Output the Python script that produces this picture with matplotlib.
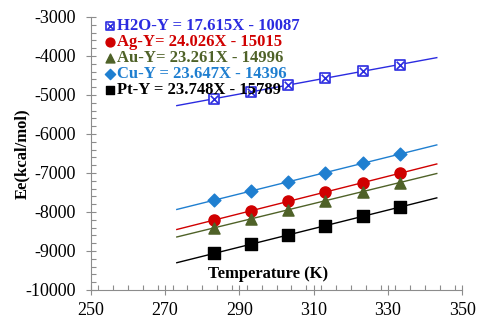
import numpy as np
import matplotlib
matplotlib.use("Agg")
import matplotlib.pyplot as plt
from matplotlib.ticker import MultipleLocator

temps = [283.15, 293.15, 303.15, 313.15, 323.15, 333.15]
h2o = [-5100, -4920, -4745, -4570, -4395, -4220]
ag = [-8210, -7970, -7730, -7490, -7250, -7010]
au = [-8410, -8177, -7945, -7712, -7480, -7247]
cu = [-7700, -7464, -7227, -6991, -6754, -6518]
pt = [-9065, -8827, -8590, -8352, -8115, -7877]
labels = ["H2O-Y = 17.615X - 10087", "Ag-Y= 24.026X - 15015", "Au-Y= 23.261X - 14996",
          "Cu-Y = 23.647X - 14396", "Pt-Y = 23.748X - 15789"]
x_ticks = [250, 270, 290, 310, 330, 350]
trend_range = [273.15, 343.15]

plt.rcParams['font.family'] = ['Liberation Serif', 'DejaVu Serif']
plt.rcParams['axes.unicode_minus'] = False
fig = plt.figure(figsize=(4.78, 3.2), dpi=100)
ax = fig.add_axes([0.190, 0.094, 0.777, 0.853])

series = [h2o, ag, au, cu, pt]
colors = ['#2B2BE0', '#D00000', '#4F6228', '#1F7FD0', '#000000']
markers = ['s', 'o', '^', 'D', 's']
msizes = [7, 8, 8, 6.5, 8]
handles = []
xt = np.array(trend_range)
for i, (vals, c, m, ms) in enumerate(zip(series, colors, markers, msizes)):
    k, b = np.polyfit(temps, vals, 1)
    ax.plot(xt, k * xt + b, color=c, lw=1.0, zorder=2)
    if i == 0:
        h1 = ax.scatter(temps, vals, marker='s', s=55, facecolor='white', edgecolor=c, linewidth=1.2, zorder=3)
        h2 = ax.scatter(temps, vals, marker='x', s=30, color=c, linewidth=1.2, zorder=4)
        handles.append((h1, h2))
    else:
        h = ax.scatter(temps, vals, marker=m, s=ms ** 2, color=c, zorder=3)
        handles.append(h)

ax.set_xlim(250, 350)
ax.set_ylim(-10000, -3000)
ax.set_xticks(x_ticks)
ax.xaxis.set_minor_locator(MultipleLocator(4))
ax.yaxis.set_major_locator(MultipleLocator(1000))
ax.yaxis.set_minor_locator(MultipleLocator(200))
for s in ['top', 'right']:
    ax.spines[s].set_visible(False)
for s in ['left', 'bottom']:
    ax.spines[s].set_color('#8C8C8C')
    ax.spines[s].set_linewidth(0.8)
ax.tick_params(which='major', direction='inout', length=7, width=0.8, color='#8C8C8C', labelsize=13)
ax.tick_params(which='minor', direction='in', length=3.5, width=0.8, color='#8C8C8C')
ax.tick_params(axis='x', pad=5)
ax.tick_params(axis='y', pad=7)

ax.set_ylabel('Ee(kcal/mol)', fontsize=12, fontweight='bold', labelpad=-3)
ax.text(0.315, 0.03, 'Temperature (K)', transform=ax.transAxes, fontsize=12, fontweight='bold',
        ha='left', va='bottom')

leg = ax.legend(handles, labels, loc='upper left', bbox_to_anchor=(0.02, 1.02), frameon=False,
                prop={'size': 12, 'weight': 'bold'}, handlelength=0.6, handletextpad=0.15,
                labelspacing=0.0, borderaxespad=0.0, markerscale=0.8)
for t, c in zip(leg.get_texts(), colors):
    t.set_color(c)

fig.savefig('out.png', dpi=100)
